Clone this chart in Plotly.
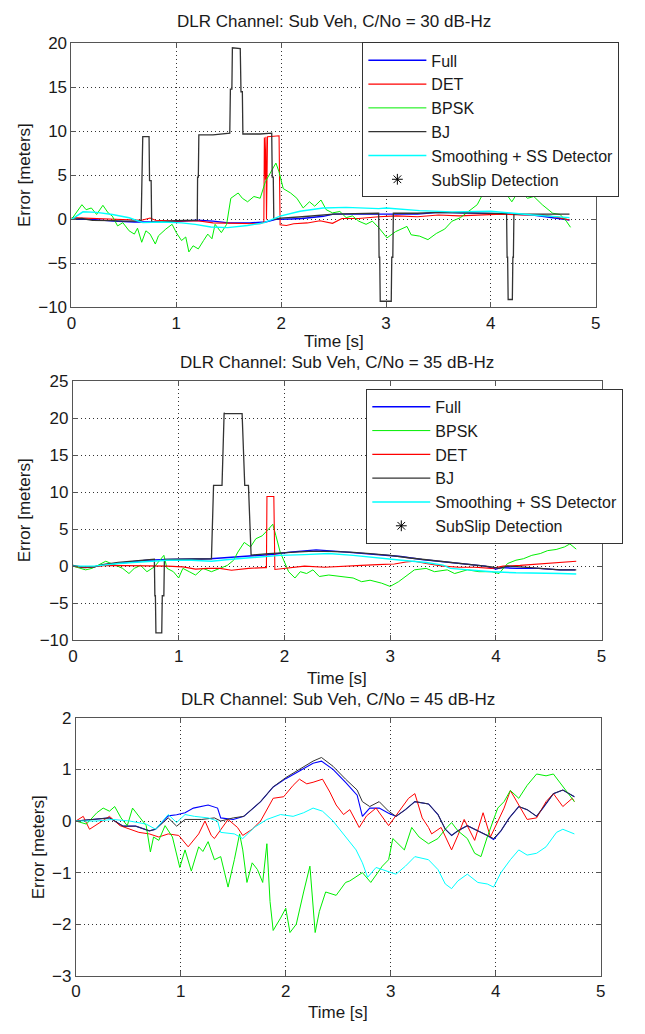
import plotly.graph_objects as go

# ---------------- Panel 1 : C/No = 30 dB-Hz ----------------
p1_full_t = [0, 0.2, 0.4, 0.6, 0.8, 1.0, 1.2, 1.35, 1.5, 1.7, 1.85, 1.95, 2.1, 2.2, 2.4, 2.5, 2.7, 2.9, 3.1, 3.3, 3.5, 3.7, 3.9, 4.0, 4.2, 4.4, 4.6, 4.75]
p1_full_v = [0, 0.0, -0.2, -0.3, -0.3, -0.25, -0.1, -0.2, -0.4, -0.4, -0.3, 0.0, 0.05, 0.1, 0.35, 0.6, 0.6, 0.6, 0.65, 0.6, 0.8, 0.75, 0.7, 0.7, 0.6, 0.5, 0.2, -0.07]

p1_det_t = [0, 0.1, 0.3, 0.5, 0.67, 0.75, 0.8, 1.0, 1.2, 1.35, 1.5, 1.65, 1.8, 1.835, 1.84, 1.85, 1.855, 1.86, 1.87, 1.93, 1.98, 1.99, 2.05, 2.12, 2.25, 2.37, 2.49, 2.58, 2.74, 2.93, 3.1, 3.3, 3.5, 3.7, 3.9, 4.1, 4.3, 4.5, 4.65, 4.75]
p1_det_v = [0.2, 0.15, 0.0, -0.1, -0.1, 0.15, -0.1, -0.2, -0.15, -0.4, -0.45, -0.5, -0.5, -0.3, 9.3, 4.5, 9.4, 0.0, 9.4, 9.45, 9.5, -0.6, -0.7, -0.5, -0.4, -0.15, -0.45, 0.1, 0.1, 0.3, 0.4, 0.3, 0.5, 0.4, 0.5, 0.6, 0.5, 0.5, 0.2, -0.07]

p1_bpsk_t = [0, 0.05, 0.1, 0.14, 0.19, 0.24, 0.3, 0.35, 0.39, 0.44, 0.49, 0.55, 0.6, 0.63, 0.67, 0.71, 0.75, 0.8, 0.83, 0.9, 0.96, 1.0, 1.05, 1.09, 1.12, 1.16, 1.21, 1.26, 1.3, 1.34, 1.37, 1.43, 1.48, 1.52, 1.59, 1.63, 1.68, 1.74, 1.8, 1.85, 1.9, 1.95, 1.98, 2.02, 2.09, 2.15, 2.21, 2.27, 2.32, 2.38, 2.43, 2.49, 2.56, 2.62, 2.68, 2.74, 2.81, 2.87, 2.93, 3.01, 3.09, 3.2, 3.24, 3.32, 3.4, 3.48, 3.56, 3.63, 3.71, 3.79, 3.87, 3.92, 4.0, 4.06, 4.14, 4.2, 4.27, 4.35, 4.41, 4.49, 4.59, 4.66, 4.72, 4.76]
p1_bpsk_v = [0, 0.9, 1.67, 1.1, 1.3, 0.56, 1.6, 0.74, 0.37, -0.74, -0.37, -1.3, -1.67, -1.0, -2.6, -1.3, -1.67, -2.8, -1.86, -1.1, -0.56, -1.5, -2.4, -2.0, -3.7, -3.0, -3.35, -2.4, -1.67, -2.2, -0.56, -1.5, -0.56, 2.4, 3.0, 2.4, 2.0, 2.6, 2.4, 4.3, 5.4, 6.4, 5.4, 3.5, 3.0, 2.4, 1.3, 2.0, 1.5, 2.2, 1.1, 0.74, 0.9, 0.2, 0.4, -0.2, -0.56, -0.2, -0.93, -2.1, -1.4, -0.8, -1.75, -1.9, -2.3, -1.6, -1.1, -0.2, 0.2, 0.93, 1.67, 2.8, 3.5, 2.6, 3.0, 2.0, 3.3, 2.4, 2.6, 1.67, 0.7, 0.56, -0.2, -0.9]

p1_bj_t = [0, 0.1, 0.2, 0.3, 0.4, 0.5, 0.6, 0.665, 0.67, 0.677, 0.68, 0.74, 0.745, 0.76, 0.765, 0.8, 0.9, 1.0, 1.1, 1.2, 1.203, 1.21, 1.215, 1.35, 1.51, 1.516, 1.53, 1.535, 1.61, 1.617, 1.63, 1.635, 1.8, 1.91, 1.915, 1.925, 1.93, 2.0, 2.2, 2.37, 2.5, 2.7, 2.93, 2.934, 2.94, 2.945, 3.05, 3.055, 3.065, 3.07, 3.3, 3.5, 3.8, 4.0, 4.15, 4.155, 4.16, 4.165, 4.205, 4.21, 4.215, 4.22, 4.4, 4.6, 4.75]
p1_bj_v = [0, 0.1, -0.1, -0.1, -0.15, -0.2, -0.2, -0.1, 4.4, 4.4, 9.4, 9.4, 4.4, 4.4, -0.3, -0.3, -0.2, -0.15, -0.1, -0.1, 4.8, 4.8, 9.6, 9.6, 9.8, 14.8, 14.8, 19.5, 19.4, 14.5, 14.5, 9.7, 9.7, 9.8, 4.8, 4.8, 0.0, 0.15, 0.3, 0.5, 0.6, 0.65, 0.7, -4.3, -4.3, -9.3, -9.3, -4.3, -4.3, 0.7, 0.7, 0.8, 0.75, 0.7, 0.65, -4.3, -4.3, -9.1, -9.1, -4.3, -4.3, 0.6, 0.6, 0.6, 0.6]

p1_ss_t = [0, 0.11, 0.24, 0.39, 0.55, 0.68, 0.86, 1.05, 1.18, 1.33, 1.49, 1.68, 1.84, 1.99, 2.18, 2.4, 2.62, 2.93, 3.0, 3.32, 3.63, 4.0, 4.4, 4.75]
p1_ss_v = [0, 0.86, 0.8, 0.56, 0.19, -0.37, -0.3, -0.4, -0.56, -0.86, -0.93, -0.7, -0.37, 0.37, 0.93, 1.3, 1.37, 1.22, 1.3, 1.0, 0.86, 0.93, 0.5, 0.2]

# ---------------- Panel 2 : C/No = 35 dB-Hz ----------------
p2_full_t = [0, 0.1, 0.2, 0.3, 0.5, 0.7, 0.9, 1.1, 1.3, 1.5, 1.7, 1.9, 2.05, 2.2, 2.3, 2.5, 2.7, 2.9, 3.1, 3.3, 3.5, 3.7, 3.9, 4.0, 4.05, 4.2, 4.4, 4.6, 4.75]
p2_full_v = [0, -0.2, -0.1, 0.2, 0.5, 0.8, 0.9, 0.9, 1.0, 1.2, 1.4, 1.6, 1.9, 2.1, 2.2, 2.0, 1.8, 1.6, 1.3, 0.9, 0.6, 0.4, 0.0, -0.4, -0.2, -0.3, -0.3, -0.5, -0.5]

p2_bpsk_t = [0, 0.07, 0.12, 0.18, 0.26, 0.31, 0.39, 0.47, 0.53, 0.58, 0.64, 0.7, 0.77, 0.83, 0.86, 0.89, 0.95, 1.0, 1.04, 1.1, 1.16, 1.23, 1.31, 1.39, 1.46, 1.52, 1.56, 1.62, 1.68, 1.73, 1.79, 1.85, 1.89, 1.92, 1.96, 2.04, 2.1, 2.15, 2.21, 2.27, 2.33, 2.42, 2.54, 2.65, 2.73, 2.81, 2.92, 3.0, 3.08, 3.15, 3.23, 3.34, 3.42, 3.54, 3.61, 3.73, 3.84, 3.96, 4.03, 4.11, 4.19, 4.26, 4.34, 4.42, 4.49, 4.57, 4.65, 4.7, 4.76]
p2_bpsk_v = [0, -0.3, -0.5, -0.3, 0.35, 0.66, 0.2, -0.3, -1.0, -0.3, 0.1, -0.75, -0.1, 1.0, 1.46, -0.3, -0.75, -1.6, -0.3, -0.75, -1.2, -0.3, -0.75, -0.3, 0.1, 0.8, 1.9, 3.2, 2.6, 3.7, 4.1, 5.0, 5.66, 4.1, 1.9, -0.75, -1.6, -0.75, -1.0, -0.5, -1.4, -1.2, -1.4, -1.6, -2.1, -1.9, -2.3, -2.74, -2.1, -1.4, -0.5, -0.3, -0.75, -0.5, -1.0, -0.5, -0.75, -0.75, -1.0, 0.35, 0.8, 1.0, 1.46, 1.7, 2.1, 2.25, 2.6, 3.0, 2.3]

p2_det_t = [0, 0.12, 0.31, 0.51, 0.7, 0.89, 1.04, 1.16, 1.27, 1.39, 1.5, 1.66, 1.81, 1.83, 1.835, 1.9, 1.91, 2.04, 2.19, 2.38, 2.54, 2.73, 2.88, 3.04, 3.15, 3.23, 3.34, 3.5, 3.65, 3.8, 3.96, 4.07, 4.23, 4.42, 4.61, 4.76]
p2_det_v = [0, -0.2, 0.1, 0.1, 0.0, 0.0, -0.1, -0.4, -0.3, -0.3, -0.55, -0.3, -0.2, -0.2, 9.4, 9.4, -0.45, -0.2, 0.0, -0.15, 0.0, 0.1, 0.2, 0.3, 0.57, 0.66, 0.35, 0.0, -0.15, -0.15, -0.3, 0.0, 0.1, 0.3, 0.57, 0.66]

p2_bj_t = [0, 0.08, 0.2, 0.28, 0.43, 0.58, 0.74, 0.77, 0.775, 0.78, 0.785, 0.84, 0.845, 0.86, 0.865, 0.97, 1.16, 1.29, 1.31, 1.33, 1.335, 1.41, 1.43, 1.435, 1.6, 1.62, 1.625, 1.66, 1.68, 1.685, 1.85, 2.04, 2.23, 2.42, 2.62, 2.81, 3.0, 3.19, 3.38, 3.57, 3.77, 3.96, 4.03, 4.11, 4.23, 4.42, 4.61, 4.76]
p2_bj_v = [0.1, -0.1, -0.1, 0.2, 0.5, 0.66, 0.93, 0.93, -4.0, -4.0, -9.0, -9.0, -4.0, -4.0, 0.9, 0.93, 0.93, 1.0, 1.0, 10.9, 10.9, 10.9, 20.7, 20.6, 20.6, 10.9, 10.9, 10.9, 1.5, 1.5, 1.7, 1.9, 2.0, 2.0, 1.9, 1.7, 1.46, 1.1, 0.8, 0.5, 0.27, -0.1, -0.3, 0.0, -0.1, -0.3, -0.5, -0.5]

p2_ss_t = [0, 0.2, 0.43, 0.66, 0.89, 1.12, 1.31, 1.5, 1.73, 1.96, 2.19, 2.42, 2.65, 2.88, 3.11, 3.34, 3.5, 3.57, 3.73, 3.96, 4.19, 4.42, 4.61, 4.76]
p2_ss_v = [0, 0.0, 0.35, 0.57, 0.8, 0.8, 0.66, 0.93, 1.24, 1.46, 1.55, 1.7, 1.46, 1.1, 0.8, 0.5, 0.13, -0.3, -0.5, -0.75, -0.9, -0.9, -1.0, -1.06]

# ---------------- Panel 3 : C/No = 45 dB-Hz ----------------
p3_full_t = [0, 0.2, 0.32, 0.45, 0.57, 0.7, 0.76, 0.88, 0.96, 1.04, 1.12, 1.26, 1.35, 1.38, 1.5, 1.6, 1.76, 1.88, 2.0, 2.13, 2.26, 2.34, 2.45, 2.57, 2.68, 2.73, 2.8, 2.89, 2.98, 3.05, 3.14, 3.23, 3.36, 3.45, 3.52, 3.58, 3.64, 3.73, 3.83, 3.92, 3.98, 4.05, 4.13, 4.22, 4.3, 4.39, 4.45, 4.55, 4.64, 4.75]
p3_full_v = [0, 0.03, 0.06, -0.1, -0.1, -0.19, -0.16, 0.1, 0.12, 0.16, 0.25, 0.31, 0.25, 0.06, 0.03, 0.09, 0.375, 0.66, 0.82, 0.97, 1.12, 1.16, 1.0, 0.75, 0.5, 0.09, 0.25, 0.25, 0.15, 0.09, 0.22, 0.375, 0.33, 0.125, -0.16, -0.28, -0.19, -0.09, -0.19, -0.28, -0.36, -0.19, 0.06, 0.28, 0.22, 0.09, 0.25, 0.53, 0.6, 0.47]

p3_det_t = [0, 0.07, 0.13, 0.23, 0.32, 0.42, 0.51, 0.6, 0.7, 0.79, 0.88, 0.98, 1.07, 1.17, 1.23, 1.29, 1.32, 1.38, 1.45, 1.54, 1.59, 1.68, 1.76, 1.88, 1.98, 2.07, 2.13, 2.2, 2.26, 2.35, 2.42, 2.48, 2.55, 2.61, 2.7, 2.77, 2.86, 2.98, 3.08, 3.17, 3.23, 3.3, 3.36, 3.39, 3.48, 3.58, 3.64, 3.7, 3.8, 3.88, 3.95, 4.02, 4.08, 4.14, 4.2, 4.3, 4.39, 4.48, 4.55, 4.64, 4.73, 4.75]
p3_det_v = [0, 0.09, -0.16, -0.03, 0.09, -0.09, -0.16, -0.22, -0.25, -0.31, -0.25, -0.28, -0.5, -0.25, 0.0, -0.28, -0.34, -0.16, 0.03, -0.125, -0.28, -0.16, 0.0, 0.44, 0.47, 0.69, 0.81, 0.72, 0.75, 0.81, 0.56, 0.31, 0.125, 0.22, -0.125, 0.1, 0.25, -0.09, 0.19, 0.44, 0.53, 0.06, -0.125, -0.25, -0.125, -0.56, -0.28, 0.03, -0.375, 0.16, -0.31, 0.0, 0.25, 0.59, 0.375, 0.03, 0.06, 0.375, 0.53, 0.28, 0.44, 0.375]

p3_bpsk_t = [0, 0.1, 0.2, 0.26, 0.32, 0.37, 0.43, 0.49, 0.54, 0.59, 0.67, 0.71, 0.74, 0.79, 0.85, 0.92, 0.99, 1.04, 1.1, 1.17, 1.21, 1.26, 1.32, 1.38, 1.45, 1.51, 1.56, 1.59, 1.63, 1.68, 1.73, 1.78, 1.82, 1.85, 1.88, 1.95, 2.0, 2.04, 2.1, 2.17, 2.23, 2.28, 2.32, 2.38, 2.48, 2.57, 2.61, 2.73, 2.81, 2.92, 2.98, 3.02, 3.13, 3.2, 3.27, 3.36, 3.45, 3.52, 3.58, 3.64, 3.73, 3.8, 3.86, 3.92, 4.02, 4.08, 4.14, 4.22, 4.3, 4.39, 4.48, 4.55, 4.64, 4.75]
p3_bpsk_v = [0, -0.06, 0.16, 0.25, 0.19, 0.28, 0.06, -0.09, 0.25, 0.125, -0.09, -0.6, -0.31, -0.375, -0.09, -0.31, -0.9, -0.56, -0.97, -0.5, -0.59, -0.4, -0.75, -0.69, -1.28, -0.75, -0.25, -0.56, -1.19, -0.81, -0.94, -1.19, -0.44, -1.56, -2.12, -1.88, -1.69, -2.16, -2.0, -1.375, -0.875, -2.16, -1.75, -1.375, -1.44, -1.19, -1.16, -1.0, -1.19, -0.875, -0.75, -0.34, -0.56, -0.125, -0.31, -0.44, -0.34, -0.16, -0.03, -0.19, -0.34, -0.625, -0.69, -0.31, 0.25, 0.375, 0.59, 0.44, 0.69, 0.91, 0.875, 0.91, 0.66, 0.375]

p3_bj_t = [0, 0.2, 0.32, 0.45, 0.57, 0.7, 0.76, 0.88, 0.96, 1.04, 1.2, 1.32, 1.38, 1.5, 1.6, 1.76, 1.88, 2.0, 2.13, 2.26, 2.34, 2.45, 2.57, 2.68, 2.73, 2.8, 2.89, 2.98, 3.05, 3.14, 3.23, 3.36, 3.45, 3.52, 3.58, 3.64, 3.73, 3.83, 3.92, 3.98, 4.05, 4.13, 4.22, 4.3, 4.39, 4.45, 4.55, 4.64, 4.75]
p3_bj_v = [0, 0.03, 0.06, -0.1, -0.1, -0.19, -0.16, 0.06, -0.1, 0.03, 0.03, 0.06, 0.0, 0.06, 0.09, 0.375, 0.66, 0.84, 1.0, 1.16, 1.23, 1.06, 0.81, 0.6, 0.375, 0.28, 0.375, 0.19, 0.09, 0.22, 0.375, 0.33, 0.125, -0.16, -0.28, -0.19, -0.09, -0.19, -0.28, -0.34, -0.19, 0.06, 0.28, 0.22, 0.09, 0.25, 0.53, 0.6, 0.47]

p3_ss_t = [0, 0.2, 0.35, 0.51, 0.67, 0.76, 0.88, 0.96, 1.04, 1.13, 1.26, 1.35, 1.38, 1.51, 1.59, 1.7, 1.82, 1.95, 2.07, 2.17, 2.26, 2.35, 2.45, 2.57, 2.67, 2.73, 2.78, 2.86, 2.97, 3.05, 3.14, 3.23, 3.36, 3.45, 3.52, 3.58, 3.64, 3.73, 3.83, 3.92, 3.98, 4.05, 4.14, 4.22, 4.3, 4.39, 4.48, 4.58, 4.64, 4.75]
p3_ss_v = [0, 0.0, 0.03, 0.0, -0.06, -0.16, 0.125, -0.03, 0.125, 0.09, 0.06, 0.0, -0.22, -0.25, -0.34, -0.125, 0.03, 0.125, 0.09, 0.16, 0.25, 0.19, 0.0, -0.31, -0.56, -0.81, -1.09, -0.9, -0.97, -1.03, -0.875, -0.69, -0.75, -0.94, -1.22, -1.31, -1.16, -1.03, -1.19, -1.22, -1.28, -1.0, -0.75, -0.56, -0.66, -0.625, -0.5, -0.22, -0.16, -0.25]

subslip_t = [None]
subslip_v = [None]

titles = ["DLR Channel: Sub Veh, C/No = 30 dB-Hz",
          "DLR Channel: Sub Veh, C/No = 35 dB-Hz",
          "DLR Channel: Sub Veh, C/No = 45 dB-Hz"]
y_ranges = [[-10, 20], [-10, 25], [-3, 2]]
y_dticks = [5, 5, 1]

# ---------------- styling ----------------
W, H = 645, 1034
FONT = "Liberation Sans, Arial, Helvetica, sans-serif"
FS = 17
LFS = 16
TXT = "#1a1a1a"
C_FULL, C_DET, C_BPSK, C_BJ, C_SS = "#0000ff", "#ff0000", "#00ee00", "#333333", "#00ffff"

# panel pixel boxes (left, right, top, bottom)
boxes = [(67.5, 600, 35, 304), (69, 606, 379, 643), (72, 605, 722, 985)]

fig = go.Figure()

def add(ax, t, v, name, color, width, legend, show):
    fig.add_trace(go.Scatter(
        x=t, y=v, mode="lines", name=name,
        line=dict(color=color, width=width),
        xaxis="x" + ("" if ax == 1 else str(ax)),
        yaxis="y" + ("" if ax == 1 else str(ax)),
        legend=legend, showlegend=show, hoverinfo="skip"))

def add_sub(ax, legend, show):
    fig.add_trace(go.Scatter(
        x=subslip_t, y=subslip_v, mode="markers", name="SubSlip Detection",
        marker=dict(symbol="asterisk-open", color="black", size=9,
                    line=dict(color="black", width=1)),
        xaxis="x" + ("" if ax == 1 else str(ax)),
        yaxis="y" + ("" if ax == 1 else str(ax)),
        legend=legend, showlegend=show))

# Panel 1 (legend order: Full, DET, BPSK, BJ, Smoothing, SubSlip)
add(1, p1_full_t, p1_full_v, "Full", C_FULL, 1.4, "legend", True)
add(1, p1_det_t, p1_det_v, "DET", C_DET, 1.1, "legend", True)
add(1, p1_bpsk_t, p1_bpsk_v, "BPSK", C_BPSK, 1.0, "legend", True)
add(1, p1_bj_t, p1_bj_v, "BJ", C_BJ, 1.3, "legend", True)
add(1, p1_ss_t, p1_ss_v, "Smoothing + SS Detector", C_SS, 1.4, "legend", True)
add_sub(1, "legend", True)

# Panel 2 (legend order: Full, BPSK, DET, BJ, Smoothing, SubSlip)
add(2, p2_full_t, p2_full_v, "Full", C_FULL, 1.4, "legend2", True)
add(2, p2_bpsk_t, p2_bpsk_v, "BPSK", C_BPSK, 1.0, "legend2", True)
add(2, p2_det_t, p2_det_v, "DET", C_DET, 1.1, "legend2", True)
add(2, p2_bj_t, p2_bj_v, "BJ", C_BJ, 1.3, "legend2", True)
add(2, p2_ss_t, p2_ss_v, "Smoothing + SS Detector", C_SS, 1.4, "legend2", True)
add_sub(2, "legend2", True)

# Panel 3 (no legend)
add(3, p3_full_t, p3_full_v, "Full", C_FULL, 1.1, "legend", False)
add(3, p3_det_t, p3_det_v, "DET", C_DET, 1.0, "legend", False)
add(3, p3_bpsk_t, p3_bpsk_v, "BPSK", C_BPSK, 1.0, "legend", False)
add(3, p3_bj_t, p3_bj_v, "BJ", C_BJ, 1.0, "legend", False)
add(3, p3_ss_t, p3_ss_v, "Smoothing + SS Detector", C_SS, 1.0, "legend", False)

axis_common = dict(
    showgrid=True, gridcolor="#333333", griddash="1px,3px", gridwidth=1,
    showline=True, linecolor="#555555", linewidth=1, mirror="ticks",
    ticks="inside", ticklen=5, tickcolor="#555555", zeroline=False,
    tickfont=dict(family=FONT, size=FS, color=TXT), fixedrange=True)

layout = dict(
    width=W, height=H, margin=dict(l=0, r=0, t=0, b=0),
    paper_bgcolor="white", plot_bgcolor="white",
    font=dict(family=FONT, size=FS, color=TXT),
    annotations=[])

for i, (l, r, t, b) in enumerate(boxes, start=1):
    sfx = "" if i == 1 else str(i)
    layout["xaxis" + sfx] = dict(axis_common, domain=[l / W, r / W], range=[0, 5], dtick=1,
                                 anchor="y" + sfx, tick0=0)
    layout["yaxis" + sfx] = dict(axis_common, domain=[1 - b / H, 1 - t / H],
                                 range=y_ranges[i - 1], dtick=y_dticks[i - 1],
                                 anchor="x" + sfx)

title_y = [13, 360, 703]
xlabel_y = [339, 682, 1022]
ylabel_x = [20, 20, 34]
for i, (l, r, t, b) in enumerate(boxes):
    cx = (l + r) / 2 / W
    layout["annotations"].append(dict(text=titles[i], x=cx, y=1 - title_y[i] / H, xref="paper", yref="paper",
                                      showarrow=False, xanchor="center", yanchor="middle",
                                      font=dict(family=FONT, size=FS, color=TXT)))
    layout["annotations"].append(dict(text="Time [s]", x=cx, y=1 - xlabel_y[i] / H, xref="paper", yref="paper",
                                      showarrow=False, xanchor="center", yanchor="middle",
                                      font=dict(family=FONT, size=FS, color=TXT)))
    layout["annotations"].append(dict(text="Error [meters]", x=ylabel_x[i] / W, y=1 - (t + b) / 2 / H,
                                      xref="paper", yref="paper", textangle=-90,
                                      showarrow=False, xanchor="center", yanchor="middle",
                                      font=dict(family=FONT, size=FS, color=TXT)))

legend_common = dict(bgcolor="white", bordercolor="#333333", borderwidth=1,
                     font=dict(family=FONT, size=LFS, color=TXT),
                     xanchor="left", yanchor="top", itemwidth=58, tracegroupgap=0)
layout["legend"] = dict(legend_common, x=363 / W, y=1 - 34 / H)
layout["legend2"] = dict(legend_common, x=367 / W, y=1 - 387 / H)

fig.update_layout(**layout)
fig.write_html("out.html")
